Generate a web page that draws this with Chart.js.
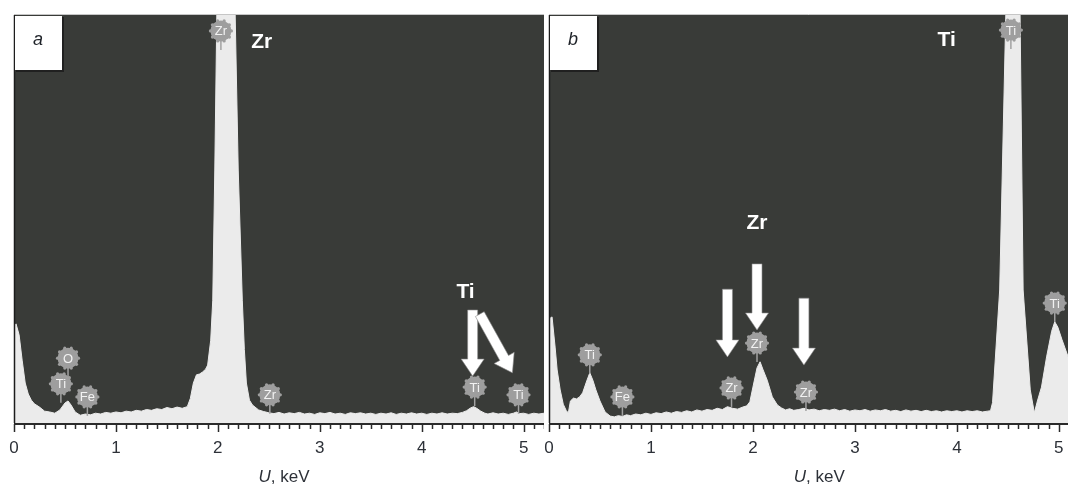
<!DOCTYPE html>
<html>
<head>
<meta charset="utf-8">
<script src="https://cdn.jsdelivr.net/npm/chart.js@4.4.1/dist/chart.umd.min.js"></script>
<style>
  html, body { margin: 0; padding: 0; background: #fff; }
  #wrap { position: relative; width: 1068px; height: 487px; overflow: hidden; }
  canvas { position: absolute; top: 0; }
  #chartA { left: 0; }
  #chartB { left: 530px; }
</style>
</head>
<body>
<div id="wrap">
  <canvas id="chartA" width="544" height="487"></canvas>
  <canvas id="chartB" width="538" height="487"></canvas>
</div>
<script>
// tick labels of the energy axis
const tickLabels = ['0', '1', '2', '3', '4', '5'];

// panel a: energy (keV) and intensity (% of plot height)
const energyA = [
  0.00, 0.02, 0.05, 0.08, 0.11, 0.14, 0.17, 0.20, 0.25, 0.30, 0.35, 0.40, 0.45, 0.50, 0.53, 0.56,
  0.60, 0.65, 0.70, 0.75, 0.80, 0.85, 0.90, 0.95, 1.00, 1.05, 1.10, 1.15, 1.20, 1.25, 1.30, 1.35,
  1.40, 1.45, 1.50, 1.55, 1.60, 1.65, 1.70, 1.73, 1.76, 1.79, 1.82, 1.85, 1.88, 1.90, 1.93, 1.95,
  1.97, 1.99, 2.08, 2.17, 2.20, 2.24, 2.26, 2.28, 2.31, 2.34, 2.40, 2.45, 2.50, 2.55, 2.60, 2.65,
  2.70, 2.75, 2.80, 2.85, 2.90, 2.95, 3.00, 3.05, 3.10, 3.15, 3.20, 3.25, 3.30, 3.35, 3.40, 3.45,
  3.50, 3.55, 3.60, 3.65, 3.70, 3.75, 3.80, 3.85, 3.90, 3.95, 4.00, 4.05, 4.10, 4.15, 4.20, 4.25,
  4.30, 4.35, 4.40, 4.44, 4.48, 4.51, 4.54, 4.58, 4.62, 4.65, 4.70, 4.75, 4.80, 4.85, 4.90, 4.93,
  4.96, 5.00, 5.05, 5.10, 5.15, 5.20
];
const countsA = [
  23.5, 24.3, 21.6, 15.4, 9.8, 7.1, 5.6, 4.7, 3.9, 2.9, 2.7, 2.4, 3.2, 4.9, 5.4, 4.4,
  2.7, 1.9, 2.2, 2.0, 2.4, 2.2, 2.6, 2.4, 2.7, 2.5, 2.9, 2.7, 3.1, 2.9, 3.3, 3.1,
  3.5, 3.3, 3.8, 3.5, 3.9, 3.6, 4.0, 6.0, 9.8, 11.8, 12.0, 12.5, 13.2, 14.2, 20.3, 30.1,
  62, 100, 150, 100, 62, 30.1, 18, 9.8, 5.6, 4.4, 3.2, 2.8, 2.5, 2.3, 2.6, 2.2,
  2.5, 2.3, 2.6, 2.2, 2.4, 2.1, 2.5, 2.3, 2.6, 2.2, 2.4, 2.1, 2.5, 2.3, 2.5, 2.2,
  2.4, 2.1, 2.4, 2.2, 2.5, 2.1, 2.4, 2.2, 2.5, 2.2, 2.4, 2.1, 2.4, 2.2, 2.5, 2.2,
  2.4, 2.3, 2.6, 3.0, 3.7, 4.0, 3.6, 2.9, 2.4, 2.2, 2.5, 2.2, 2.4, 2.1, 2.4, 2.7,
  2.3, 2.4, 2.1, 2.4, 2.2, 2.4
];

// panel b
const energyB = [
  0.00, 0.03, 0.06, 0.08, 0.11, 0.14, 0.17, 0.19, 0.21, 0.24, 0.27, 0.30, 0.33, 0.37, 0.40, 0.43,
  0.46, 0.50, 0.55, 0.60, 0.64, 0.68, 0.72, 0.76, 0.80, 0.85, 0.90, 0.95, 1.00, 1.05, 1.10, 1.15,
  1.20, 1.25, 1.30, 1.35, 1.40, 1.45, 1.50, 1.55, 1.60, 1.65, 1.70, 1.75, 1.80, 1.85, 1.90, 1.94,
  1.97, 2.00, 2.04, 2.07, 2.10, 2.14, 2.19, 2.24, 2.28, 2.32, 2.36, 2.40, 2.45, 2.50, 2.55, 2.60,
  2.65, 2.70, 2.75, 2.80, 2.85, 2.90, 2.95, 3.00, 3.05, 3.10, 3.15, 3.20, 3.25, 3.30, 3.35, 3.40,
  3.45, 3.50, 3.55, 3.60, 3.65, 3.70, 3.75, 3.80, 3.85, 3.90, 3.95, 4.00, 4.05, 4.10, 4.15, 4.20,
  4.25, 4.30, 4.33, 4.35, 4.42, 4.48, 4.55, 4.62, 4.65, 4.72, 4.76, 4.79, 4.83, 4.88, 4.93, 4.96,
  4.99, 5.03, 5.09
];
const countsB = [
  25.5, 26.0, 18.6, 13.0, 8.1, 4.6, 3.0, 2.5, 5.4, 6.1, 5.9, 6.4, 7.4, 10.3, 12.3, 10.5,
  8.1, 5.4, 2.7, 1.7, 1.5, 1.8, 1.6, 2.0, 1.8, 2.2, 2.0, 2.4, 2.1, 2.5, 2.3, 2.7,
  2.4, 2.8, 2.6, 3.0, 2.7, 3.2, 2.9, 3.3, 3.1, 3.6, 3.3, 4.0, 3.6, 3.4, 3.9, 4.2,
  5.2, 8.8, 13.5, 15.0, 13.0, 10.5, 6.4, 4.4, 3.7, 3.2, 3.5, 3.1, 3.3, 3.6, 3.2, 3.4,
  3.0, 3.3, 3.1, 3.4, 3.0, 3.3, 2.9, 3.2, 3.0, 3.3, 2.9, 3.2, 3.0, 3.3, 2.9, 3.1,
  2.8, 3.2, 2.9, 3.1, 2.8, 3.1, 2.8, 3.0, 2.7, 3.0, 2.8, 3.0, 2.7, 3.0, 2.8, 3.0,
  2.7, 2.9, 3.0, 5.0, 32.6, 100, 170, 100, 32.6, 8.1, 2.5, 5.4, 8.8, 16.2, 22.5, 24.8,
  23.5, 20.5, 16.3
];

// element markers: text, energy, height
const markerTextA   = ['Zr', 'O', 'Ti', 'Fe', 'Zr', 'Ti', 'Ti'];
const markerEnergyA = [2.03, 0.53, 0.46, 0.72, 2.51, 4.52, 4.95];
const markerLevelA  = [96.1, 15.9, 9.6, 6.4, 6.9, 8.8, 6.9];

const markerTextB   = ['Ti', 'Ti', 'Ti', 'Fe', 'Zr', 'Zr', 'Zr'];
const markerEnergyB = [4.53, 4.96, 0.40, 0.72, 1.79, 2.04, 2.52];
const markerLevelB  = [96.3, 29.4, 16.7, 6.4, 8.6, 19.6, 7.6];

// bold element captions
const captionTextA   = ['Zr', 'Ti'];
const captionEnergyA = [2.43, 4.43];
const captionLevelA  = [93.4, 32.1];
const captionTextB   = ['Zr', 'Ti'];
const captionEnergyB = [2.04, 3.90];
const captionLevelB  = [49.0, 93.9];

// arrows: [energy from, level from, energy to, level to]
const arrowsA = [[4.50, 27.7, 4.50, 11.5], [4.57, 26.7, 4.89, 12.3]];
const arrowsB = [[1.75, 32.8, 1.75, 16.2], [2.04, 39.0, 2.04, 22.8], [2.50, 30.6, 2.50, 14.2]];

const FONT = "'Liberation Sans', Arial, sans-serif";

const panels = {
  chartA: { letter: 'a', markers: [markerTextA, markerEnergyA, markerLevelA],
            captions: [captionTextA, captionEnergyA, captionLevelA], arrows: arrowsA },
  chartB: { letter: 'b', markers: [markerTextB, markerEnergyB, markerLevelB],
            captions: [captionTextB, captionEnergyB, captionLevelB], arrows: arrowsB },
};

function drawMarker(ctx, cx, cy, text) {
  ctx.strokeStyle = '#a2a2a2';
  ctx.lineWidth = 1.5;
  ctx.beginPath();
  ctx.moveTo(cx, cy);
  ctx.lineTo(cx, cy + 19);
  ctx.stroke();
  ctx.fillStyle = '#9e9e9e';
  ctx.beginPath();
  ctx.arc(cx, cy, 10.5, 0, Math.PI * 2);
  ctx.fill();
  for (let k = 0; k < 10; k++) {
    const a = k * Math.PI / 5;
    ctx.beginPath();
    ctx.arc(cx + Math.cos(a) * 10.5, cy + Math.sin(a) * 10.5, 1.6, 0, Math.PI * 2);
    ctx.fill();
  }
  ctx.fillStyle = '#f2f2f2';
  ctx.font = `13px ${FONT}`;
  ctx.textAlign = 'center';
  ctx.textBaseline = 'middle';
  ctx.fillText(text, cx, cy + 1);
}

function drawArrow(ctx, x1, y1, x2, y2) {
  const dx = x2 - x1, dy = y2 - y1;
  const len = Math.hypot(dx, dy);
  const ux = dx / len, uy = dy / len;
  const nx = -uy, ny = ux;
  const sw = 5, hw = 11.5, hl = 17;
  const bx = x2 - ux * hl, by = y2 - uy * hl;
  ctx.fillStyle = '#ffffff';
  ctx.strokeStyle = '#8a8a8a';
  ctx.lineWidth = 0.6;
  ctx.beginPath();
  ctx.moveTo(x1 + nx * sw, y1 + ny * sw);
  ctx.lineTo(bx + nx * sw, by + ny * sw);
  ctx.lineTo(bx + nx * hw, by + ny * hw);
  ctx.lineTo(x2, y2);
  ctx.lineTo(bx - nx * hw, by - ny * hw);
  ctx.lineTo(bx - nx * sw, by - ny * sw);
  ctx.lineTo(x1 - nx * sw, y1 - ny * sw);
  ctx.closePath();
  ctx.fill();
  ctx.stroke();
}

const decorPlugin = {
  id: 'decor',
  beforeDatasetsDraw(chart) {
    const { ctx, chartArea: { left, right, top, bottom } } = chart;
    ctx.save();
    ctx.fillStyle = '#393b38';
    ctx.fillRect(left, top, right - left, bottom - top);
    ctx.strokeStyle = '#c6c6c6';
    ctx.lineWidth = 1;
    ctx.beginPath();
    ctx.moveTo(left, top - 0.5);
    ctx.lineTo(right, top - 0.5);
    ctx.stroke();
    ctx.restore();
  },
  afterDatasetsDraw(chart) {
    const p = panels[chart.canvas.id];
    const { ctx, chartArea: { left, top, bottom }, scales: { x, y } } = chart;
    ctx.save();

    // left axis line
    ctx.strokeStyle = '#1c1c1c';
    ctx.lineWidth = 1.5;
    ctx.beginPath();
    ctx.moveTo(left + 0.5, top);
    ctx.lineTo(left + 0.5, bottom);
    ctx.stroke();

    const [mt, me, ml] = p.markers;
    mt.forEach((t, i) => drawMarker(ctx, x.getPixelForValue(me[i]), y.getPixelForValue(ml[i]), t));

    p.arrows.forEach(a => drawArrow(ctx,
      x.getPixelForValue(a[0]), y.getPixelForValue(a[1]),
      x.getPixelForValue(a[2]), y.getPixelForValue(a[3])));

    const [ct, ce, cl] = p.captions;
    ctx.fillStyle = '#ffffff';
    ctx.font = `bold 21px ${FONT}`;
    ctx.textAlign = 'center';
    ctx.textBaseline = 'middle';
    ct.forEach((t, i) => ctx.fillText(t, x.getPixelForValue(ce[i]), y.getPixelForValue(cl[i])));

    // panel letter box
    ctx.fillStyle = '#202020';
    ctx.fillRect(left + 2, top + 2, 48, 55);
    ctx.fillStyle = '#ffffff';
    ctx.fillRect(left + 1, top + 1, 47, 54);
    ctx.fillStyle = '#1e2228';
    ctx.font = `italic 18px ${FONT}`;
    ctx.fillText(p.letter, left + 24, top + 25);
    ctx.restore();
  },
  afterDraw(chart) {
    const { ctx, chartArea: { left, right, bottom }, scales: { x } } = chart;
    ctx.save();
    ctx.strokeStyle = '#2a2a2a';
    ctx.lineWidth = 2;
    ctx.beginPath();
    ctx.moveTo(left, bottom + 1);
    ctx.lineTo(right, bottom + 1);
    ctx.stroke();
    ctx.lineWidth = 1.5;
    const n = Math.floor(x.max * 10 + 1e-6);
    for (let i = 0; i <= n; i++) {
      const px = Math.round(x.getPixelForValue(i / 10)) + 0.5;
      const len = i % 10 === 0 ? 8 : 5;
      ctx.beginPath();
      ctx.moveTo(px, bottom + 1);
      ctx.lineTo(px, bottom + 1 + len);
      ctx.stroke();
    }
    // axis title "U, keV"
    const cx = x.getPixelForValue(2.65);
    const ty = 477;
    ctx.fillStyle = '#2d3138';
    ctx.textBaseline = 'middle';
    ctx.textAlign = 'left';
    ctx.font = `italic 17px ${FONT}`;
    const wU = ctx.measureText('U').width;
    ctx.font = `17px ${FONT}`;
    const wRest = ctx.measureText(', keV').width;
    const start = cx - (wU + wRest) / 2;
    ctx.font = `italic 17px ${FONT}`;
    ctx.fillText('U', start, ty);
    ctx.font = `17px ${FONT}`;
    ctx.fillText(', keV', start + wU, ty);
    ctx.restore();
  }
};
Chart.register(decorPlugin);

function renderPanel(id, energy, counts, maxE, padLeft) {
  return new Chart(document.getElementById(id), {
    type: 'line',
    data: {
      datasets: [{
        data: energy.map((e, i) => ({ x: e, y: counts[i] })),
        fill: 'origin',
        backgroundColor: '#ebebeb',
        borderColor: '#ebebeb',
        borderWidth: 1,
        pointRadius: 0,
        tension: 0,
      }]
    },
    options: {
      responsive: false,
      animation: false,
      events: [],
      layout: { padding: { left: padLeft, right: 0, top: 15, bottom: 0 } },
      plugins: { legend: { display: false }, tooltip: { enabled: false } },
      scales: {
        x: {
          type: 'linear',
          min: 0,
          max: maxE,
          afterFit(scale) {
            scale.height = 64;
            scale.paddingLeft = 0;
            scale.paddingRight = 0;
          },
          grid: { display: false, drawTicks: true, tickLength: 15 },
          border: { display: false },
          ticks: {
            stepSize: 1,
            includeBounds: false,
            autoSkip: false,
            maxRotation: 0,
            padding: 0,
            color: '#2d3138',
            font: { family: FONT, size: 17 },
            callback: v => tickLabels[v] ?? ''
          }
        },
        y: { display: false, min: 0, max: 100 }
      }
    }
  });
}

renderPanel('chartA', energyA, countsA, 5.2, 14);
renderPanel('chartB', energyB, countsB, 5.09, 19);
</script>
</body>
</html>
